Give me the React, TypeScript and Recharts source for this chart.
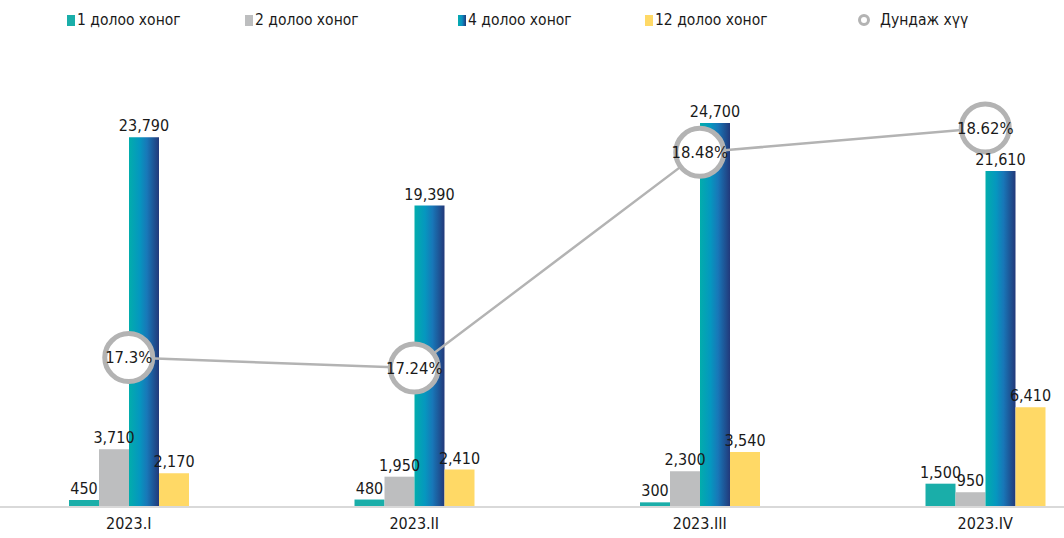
import React from 'react';
import { ComposedChart, Bar, Line, XAxis, YAxis, Legend, LabelList } from 'recharts';

const quarters = ['2023.I', '2023.II', '2023.III', '2023.IV'];
const week1 = [450, 480, 300, 1500];
const week2 = [3710, 1950, 2300, 950];
const week4 = [23790, 19390, 24700, 21610];
const week12 = [2170, 2410, 3540, 6410];
const avgRate = [17.3, 17.24, 18.48, 18.62];

const legendItems = [
  { label: '1 долоо хоног', color: '#1aaea9', kind: 'square', width: 178 },
  { label: '2 долоо хоног', color: '#bdbebf', kind: 'square', width: 213 },
  { label: '4 долоо хоног', color: '#0a8fc4', kind: 'gradient', width: 187 },
  { label: '12 долоо хоног', color: '#ffd966', kind: 'square', width: 213 },
  { label: 'Дундаж хүү', color: '#b3b3b3', kind: 'circle', width: 160 },
];

const data = quarters.map((q, i) => ({
  name: q,
  w1: week1[i],
  w2: week2[i],
  w4: week4[i],
  w12: week12[i],
  rate: avgRate[i],
}));

const FONT = "'DejaVu Sans Condensed', 'Liberation Sans Narrow', sans-serif";

const fmt = (v: any) => Number(v).toLocaleString('en-US');

const LegendContent = () => (
  <div style={{ display: 'flex', alignItems: 'center', height: 30, paddingLeft: 67, fontFamily: FONT, fontSize: 15.5, color: '#1a1a1a' }}>
    {legendItems.map((it) => (
      <div key={it.label} style={{ width: it.width, display: 'flex', alignItems: 'center' }}>
        {it.kind === 'circle' ? (
          <span style={{ width: 12, height: 12, borderRadius: '50%', border: '3px solid #b3b3b3', marginRight: 10, boxSizing: 'border-box' }} />
        ) : (
          <span
            style={{
              width: 8,
              height: 11,
              marginRight: 2,
              background: it.kind === 'gradient' ? 'linear-gradient(90deg, #05adad, #0a8fc4, #20397a)' : it.color,
            }}
          />
        )}
        <span>{it.label}</span>
      </div>
    ))}
  </div>
);

export default function App() {
  return (
    <div style={{ position: 'absolute', left: 0, top: 0, width: 1064, height: 538, background: '#fff' }}>
      <ComposedChart
        width={1064}
        height={538}
        data={data}
        margin={{ top: 70, right: 0, left: 0, bottom: 1 }}
        barGap={0}
        style={{ fontFamily: FONT }}
      >
        <defs>
          <linearGradient id="blueBar" x1="0" y1="0" x2="1" y2="0">
            <stop offset="0%" stopColor="#02adac" />
            <stop offset="35%" stopColor="#0597bf" />
            <stop offset="60%" stopColor="#1877b8" />
            <stop offset="100%" stopColor="#22397a" />
          </linearGradient>
        </defs>
        <Legend verticalAlign="top" content={<LegendContent />} wrapperStyle={{ top: 5, left: 0 }} />
        <XAxis
          dataKey="name"
          axisLine={{ stroke: '#d9d9d9', strokeWidth: 2 }}
          tickLine={false}
          tickMargin={5}
          height={30}
          padding={{ left: -14, right: -64 }}
          tick={{ fill: '#1a1a1a', fontSize: 16 }}
          interval={0}
        />
        <YAxis yAxisId="left" hide domain={[0, 26180]} />
        <YAxis yAxisId="right" hide orientation="right" domain={[16.441, 18.781]} />
        <Bar yAxisId="left" dataKey="w1" fill="#1aaea9" barSize={30} isAnimationActive={false}>
          <LabelList dataKey="w1" position="top" offset={6} formatter={fmt} fill="#1a1a1a" fontSize={16} />
        </Bar>
        <Bar yAxisId="left" dataKey="w2" fill="#bdbebf" barSize={30} isAnimationActive={false}>
          <LabelList dataKey="w2" position="top" offset={6} formatter={fmt} fill="#1a1a1a" fontSize={16} />
        </Bar>
        <Bar yAxisId="left" dataKey="w4" fill="url(#blueBar)" barSize={30} isAnimationActive={false}>
          <LabelList dataKey="w4" position="top" offset={6} formatter={fmt} fill="#1a1a1a" fontSize={16} />
        </Bar>
        <Bar yAxisId="left" dataKey="w12" fill="#ffd966" barSize={30} isAnimationActive={false}>
          <LabelList dataKey="w12" position="top" offset={6} formatter={fmt} fill="#1a1a1a" fontSize={16} />
        </Bar>
        <Line
          yAxisId="right"
          dataKey="rate"
          stroke="#b3b3b3"
          strokeWidth={2.5}
          dot={{ r: 24, fill: '#fff', stroke: '#b3b3b3', strokeWidth: 5 }}
          activeDot={false}
          isAnimationActive={false}
        >
          <LabelList dataKey="rate" position="center" formatter={(v: any) => `${v}%`} fill="#1a1a1a" fontSize={16.5} />
        </Line>
      </ComposedChart>
    </div>
  );
}
